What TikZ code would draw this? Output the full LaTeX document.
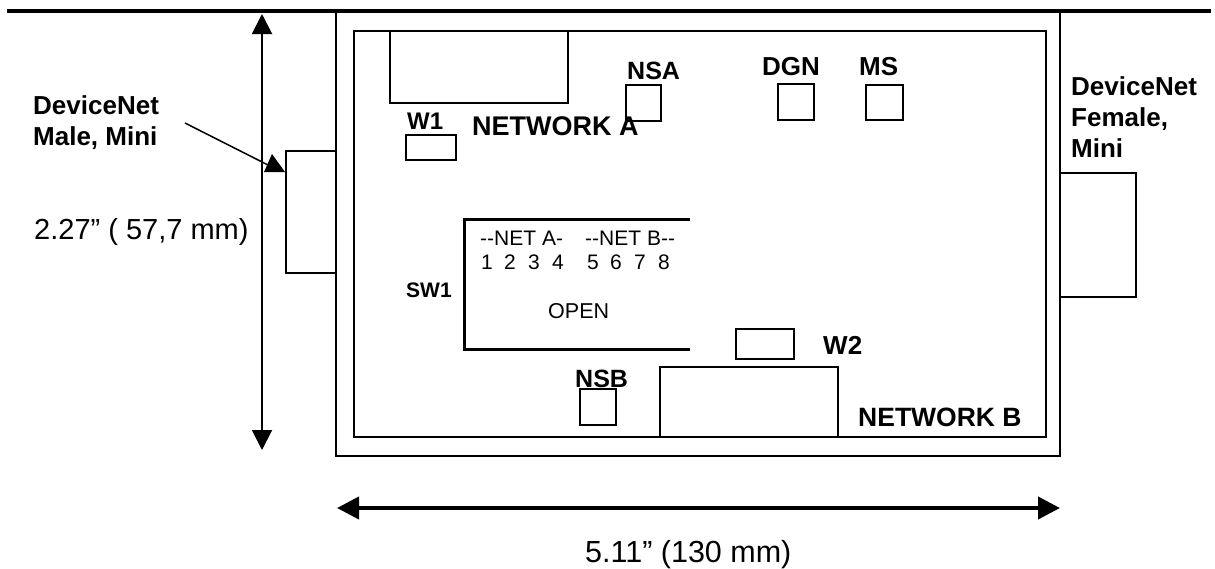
\documentclass[tikz,border=0pt]{standalone}
\usepackage{fontspec}
\setmainfont{Liberation Sans}
\usetikzlibrary{arrows.meta}
\tikzset{
  partbox/.style={draw=black, line width=2pt, anchor=north west, inner sep=0pt, outer sep=0pt},
  boldlabel/.style={font=\fontsize{26}{31}\selectfont\bfseries, anchor=base west, inner sep=0pt},
  smalllabel/.style={font=\fontsize{21}{25}\selectfont, anchor=base west, inner sep=0pt},
  dimlabel/.style={font=\fontsize{29}{34}\selectfont, anchor=base west, inner sep=0pt},
  stacklabel/.style={font=\fontsize{26}{31}\selectfont\bfseries, anchor=west, align=left, inner sep=0pt}
}
\begin{document}
\begin{tikzpicture}[x=1pt, y=-1pt]
    \useasboundingbox (0,0) rectangle (1215,568);

    % Top rule
    \coordinate (ruleL) at (7,11);
    \coordinate (ruleR) at (1211,11);
    \draw[line width=4pt] (ruleL) -- (ruleR);

    % Enclosure and board
    \node[partbox, minimum width=724pt, minimum height=445pt] (enclosure) at (336,11) {};
    \node[partbox, minimum width=692pt, minimum height=406pt] (board) at (354,31) {};

    % Connectors on the sides
    \node[partbox, minimum width=50pt, minimum height=122pt] (maleconn) at (286,151) {};
    \node[partbox, minimum width=76pt, minimum height=124pt] (femaleconn) at (1060,173) {};

    % Network plugs
    \node[partbox, minimum width=178pt, minimum height=72pt] (netA) at (390,31) {};
    \node[partbox, minimum width=178pt, minimum height=70pt] (netB) at (660,367) {};

    % Jumpers and LEDs
    \node[partbox, minimum width=50pt, minimum height=25pt] (jumpA) at (406,135) {};
    \node[partbox, minimum width=58pt, minimum height=30pt] (jumpB) at (736,329) {};
    \node[partbox, minimum width=35pt, minimum height=36pt] (ledNSA) at (626,85) {};
    \node[partbox, minimum width=36pt, minimum height=36pt] (ledDGN) at (778,84) {};
    \node[partbox, minimum width=37pt, minimum height=35pt] (ledMS) at (866,85) {};
    \node[partbox, minimum width=36pt, minimum height=36pt] (ledNSB) at (580,389) {};

    % Switch outline
    \draw[line width=3pt] (690,219) -- (464,219) -- (464,349) -- (690,349);

    % Dimension arrows
    \coordinate (vtop) at (262,14);
    \coordinate (vbot) at (262,450);
    \coordinate (hleft) at (337,508);
    \coordinate (hright) at (1060,508);
    \draw[line width=2pt, {Triangle[length=20pt, width=20pt]}-{Triangle[length=20pt, width=20pt]}] (vtop) -- (vbot);
    \draw[line width=4pt, {Triangle[length=22pt, width=22pt]}-{Triangle[length=22pt, width=22pt]}] (hleft) -- (hright);

    % Pointer to the male connector
    \coordinate (ptrtail) at (185,123);
    \coordinate (ptrtip) at (268,165);
    \draw[line width=1.5pt] (ptrtail) -- (ptrtip);
    \fill (264,172) -- (285,172) -- (272,154) -- cycle;

    % Labels
    \node[stacklabel] (malelabel) at (33,123) {DeviceNet\\Male, Mini};
    \node[stacklabel] (femalelabel) at (1071,117) {DeviceNet\\Female,\\Mini};
    \node[boldlabel, font=\fontsize{24}{29}\selectfont\bfseries] (lblW1) at (407,129) {W1};
    \node[boldlabel, font=\fontsize{27}{32}\selectfont\bfseries] (lblNetA) at (472,135) {NETWORK A};
    \node[boldlabel, font=\fontsize{25}{30}\selectfont\bfseries] (lblNSA) at (627,79) {NSA};
    \node[boldlabel] (lblDGN) at (762,75) {DGN};
    \node[boldlabel] (lblMS) at (859,75) {MS};
    \node[boldlabel] (lblW2) at (823,354) {W2};
    \node[boldlabel, font=\fontsize{25}{30}\selectfont\bfseries] (lblNSB) at (575,387) {NSB};
    \node[boldlabel, font=\fontsize{26.5}{31}\selectfont\bfseries] (lblNetB) at (858,426) {NETWORK B};
    \node[boldlabel, font=\fontsize{21}{25}\selectfont\bfseries] (lblSW1) at (406,297) {SW1};

    % Switch texts
    \node[smalllabel] (lblNetsA) at (480,245) {-{}-NET A-};
    \node[smalllabel] (lblNetsB) at (585,245) {-{}-NET B-{}-};
    \foreach \d/\xpos in {1/481, 2/504, 3/528, 4/552, 5/587, 6/610, 7/634, 8/658}
        \node[smalllabel] (dip\d) at (\xpos,269) {\d};
    \node[smalllabel, font=\fontsize{21.5}{25}\selectfont] (lblOpen) at (548,318) {OPEN};

    % Dimensions
    \node[dimlabel] (dimH) at (34,239) {2.27” ( 57,7 mm)};
    \node[dimlabel, font=\fontsize{30.5}{36}\selectfont] (dimW) at (585,562) {5.11” (130 mm)};
\end{tikzpicture}
\end{document}
